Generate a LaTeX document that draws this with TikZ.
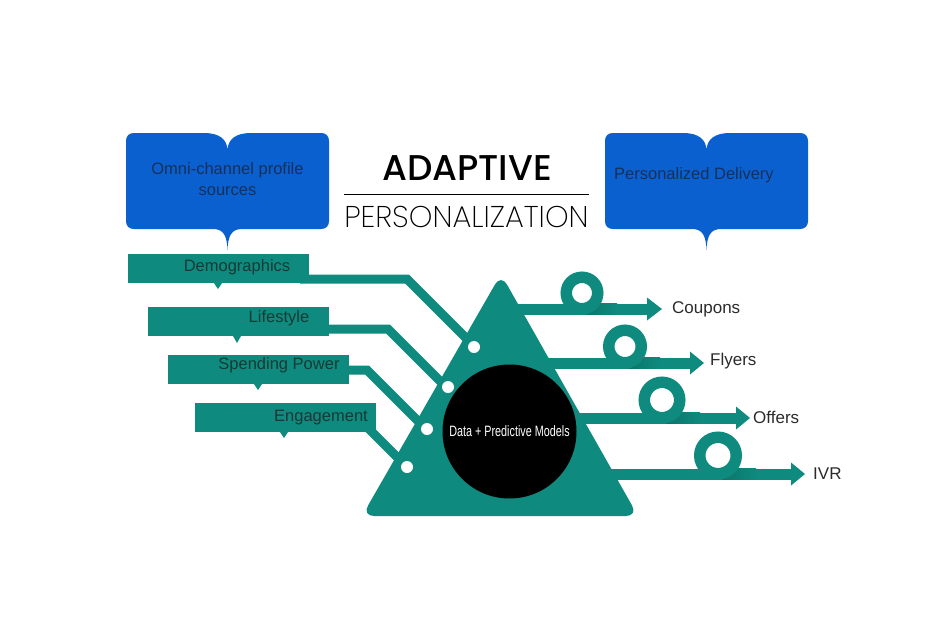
\documentclass[tikz,border=0pt]{standalone}
\usepackage{fontspec}
\setmainfont{Liberation Sans}
\newfontfamily\titlebold{Poppins Medium}
\newfontfamily\titlelight{Poppins ExtraLight}
\newfontfamily\condfont{Liberation Sans}[FakeStretch=0.72]
\definecolor{tealc}{HTML}{0F8A7E}
\definecolor{tealdk}{HTML}{0C7569}
\definecolor{blueb}{HTML}{0A60CF}
\definecolor{navytxt}{HTML}{17305A}
\definecolor{tealtxt}{HTML}{163A35}
\definecolor{labtxt}{HTML}{2B2B2B}
\tikzset{
  ribbon/.style={draw=tealc, line width=9pt, line join=miter},
  tealbox/.style={fill=tealc, inner sep=0pt, minimum height=29pt},
  boxtxt/.style={font=\fontsize{16.5}{19}\selectfont, text=tealtxt, inner sep=0pt},
  bluetxt/.style={font=\fontsize{16.5}{21}\selectfont, text=navytxt, inner sep=0pt, align=center},
  outlab/.style={font=\fontsize{17}{20}\selectfont, text=labtxt, inner sep=0pt, anchor=west},
  wdot/.style={circle, fill=white, inner sep=0pt, minimum size=12pt},
}
\newcommand\bookpath{(0,8) .. controls (0,3) and (3,0) .. (8,0) -- (78,0) .. controls (93,0) and (101,6) .. (101.5,17) .. controls (102,6) and (110,0) .. (125,0) -- (195,0) .. controls (200,0) and (203,3) .. (203,8) -- (203,88) .. controls (203,93) and (200,96) .. (195,96) -- (116,96) .. controls (106,96) and (102,102) .. (101.5,117) .. controls (101,102) and (97,96) .. (87,96) -- (8,96) .. controls (3,96) and (0,93) .. (0,88) -- cycle}
% output arrow: #1 y centre, #2 ring x, #3 head base x, #4 tip x, #5 seam x, #6 name, #7 ring outer radius
\newcommand\outarrow[7]{%
  \fill[tealc] (505,#1-5.5) rectangle (#3,#1+5.5);
  \shade[left color=tealdk, right color=tealc] (#2+4,#1-5.5) rectangle (#5,#1+5.5);
  \draw[tealc, line width=11.5pt] (#2,#1+5.5-#7) circle[radius=#7-5.75];
  \fill[tealc] (#3,#1-11.5) -- (#4,#1) -- (#3,#1+11.5) -- cycle;
  \coordinate (#6) at (#4+10,#1);
}
\begin{document}
\begin{tikzpicture}[x=1pt,y=-1pt]
\useasboundingbox (0,0) rectangle (930,624);
\fill[white] (0,0) rectangle (930,624);

% blue book-shaped callouts
\fill[blueb, shift={(126,133)}] \bookpath;
\fill[blueb, shift={(605,133)}] \bookpath;
\node[bluetxt] (omni) at (227.5,179) {Omni-channel profile\\sources};
\node[bluetxt, anchor=west] (deliv) at (614,175) {Personalized Delivery};

% title
\node[font=\titlebold\fontsize{35.8}{38}\selectfont, inner sep=0pt] (adapt) at (467,168) {ADAPTIVE};
\draw[line width=1pt] (344,194) -- (589,194);
\node[font=\titlelight\fontsize{30}{34}\selectfont, inner sep=0pt] (pers) at (466.5,217) {PERSONALIZATION};

% ribbons from inputs into triangle
\draw[ribbon] (300,279) -- (407,279) -- (490,362);
\draw[ribbon] (320,329) -- (388,329) -- (460,401);
\draw[ribbon] (340,370) -- (367,370) -- (440,443);
\draw[ribbon] (360,420) -- (420,480);

% teal input boxes with tails
\node[tealbox, minimum width=181pt] (demo) at (218.5,268.5) {};
\fill[tealc] (214,283) -- (222,283) -- (218,289) -- cycle;
\node[tealbox, minimum width=181pt] (life) at (238.5,321.5) {};
\fill[tealc] (233,336) -- (241,336) -- (237,343) -- cycle;
\node[tealbox, minimum width=181pt] (spend) at (258.5,369.5) {};
\fill[tealc] (254,384) -- (262,384) -- (258,390) -- cycle;
\node[tealbox, minimum width=181pt] (engage) at (285.5,417.5) {};
\fill[tealc] (280,432) -- (288,432) -- (284,438) -- cycle;
\node[boxtxt] (tdemo) at (237,267) {Demographics};
\node[boxtxt] (tlife) at (279,318) {Lifestyle};
\node[boxtxt] (tspend) at (279,365) {Spending Power};
\node[boxtxt] (teng) at (321,418) {Engagement};

% output arrows
\outarrow{309}{582}{647}{662}{617}{acoup}{21.5}
\outarrow{363}{625}{690}{704}{660}{afly}{22}
\outarrow{418}{662}{736}{750}{700}{aoff}{23.5}
\outarrow{474}{718}{791}{805}{756}{aivr}{24}

% triangle
\fill[tealc, rounded corners=12pt] (501,274) -- (638,516) -- (362,516) -- cycle;
\node[wdot] (d1) at (474,347) {};
\node[wdot] (d2) at (448,387) {};
\node[wdot] (d3) at (427,429) {};
\node[wdot] (d4) at (407,467) {};

% central circle
\node[circle, fill=black, minimum size=134pt, inner sep=0pt, text=white, font=\condfont\fontsize{15}{17}\selectfont] (core) at (509.5,431.5) {Data + Predictive Models};

% output labels
\node[outlab] (lcoup) at (672,309) {Coupons};
\node[outlab] (lfly) at (710,361) {Flyers};
\node[outlab] (loff) at (753,417) {Offers};
\node[outlab] (livr) at (813,474) {IVR};
\end{tikzpicture}
\end{document}
